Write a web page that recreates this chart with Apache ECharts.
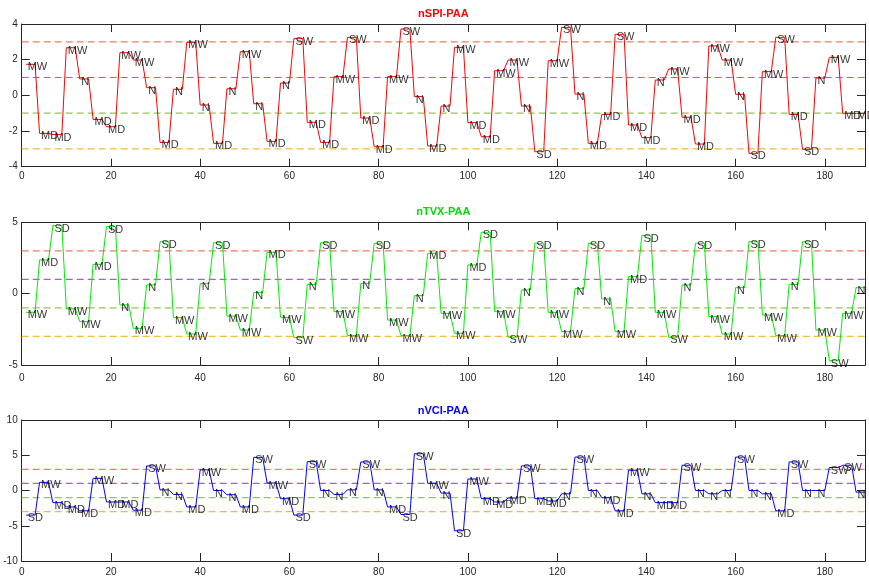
<!DOCTYPE html>
<html>
<head>
<meta charset="utf-8">
<script src="https://cdn.jsdelivr.net/npm/echarts@6/dist/echarts.min.js"></script>
<style>
html,body{margin:0;padding:0;background:#fff;}
#chart{width:869px;height:577px;}
</style>
</head>
<body>
<div id="chart"></div>
<script>
// ---- data: PAA segment values (each segment spans 3 samples) ----
const segLen = 3;
const xTicks = [0, 20, 40, 60, 80, 100, 120, 140, 160, 180];
const thresholds = [3, 1, -1, -3];

const spiValues = [1.74, -2.13, -2.2, 2.67, 0.92, -1.35, -1.76, 2.39, 1.98, 0.43,
  -2.64, 0.34, 2.97, -0.54, -2.69, 0.37, 2.45, -0.47, -2.58, 0.69,
  3.18, -1.51, -2.64, 1.05, 3.25, -1.27, -2.88, 1.05, 3.72, -0.07,
  -2.84, -0.6, 2.69, -1.53, -2.32, 1.38, 1.98, -0.6, -3.16, 1.94,
  3.81, 0.07, -2.69, -1.07, 3.42, -1.66, -2.37, 0.86, 1.48, -1.23,
  -2.73, 2.77, 1.98, 0.06, -3.25, 1.33, 3.25, -1.07, -3.03, 0.97,
  2.13, -1.01, -1.01];
const spiLabels = ['MW','MD','MD','MW','N','MD','MD','MW','MW','N',
  'MD','N','MW','N','MD','N','MW','N','MD','N',
  'SW','MD','MD','MW','SW','MD','MD','MW','SW','N',
  'MD','N','MW','MD','MD','MW','MW','N','SD','MW',
  'SW','N','MD','MD','SW','MD','MD','N','MW','MD',
  'MD','MW','MW','N','SD','MW','SW','MD','SD','N',
  'MW','MD','MD'];

const tvxValues = [-1.31, 2.36, 4.77, -1.07, -1.96, 2.06, 4.7, -0.79, -2.43, 0.61,
  3.64, -1.68, -2.83, 0.7, 3.57, -1.57, -2.55, 0.07, 2.9, -1.66,
  -3.08, 0.65, 3.57, -1.26, -2.94, 0.72, 3.53, -1.85, -2.94, -0.14,
  2.83, -1.38, -2.78, 2.01, 4.3, -1.26, -3.05, 0.26, 3.53, -1.31,
  -2.66, 0.35, 3.53, -0.37, -2.66, 1.19, 4.07, -1.31, -3.05, 0.61,
  3.53, -1.61, -2.83, 0.42, 3.64, -1.5, -2.94, 0.65, 3.64, -2.55,
  -4.7, -1.38, 0.42];
const tvxLabels = ['MW','MD','SD','MW','MW','MD','SD','N','MW','N',
  'SD','MW','MW','N','SD','MW','MW','N','MD','MW',
  'SW','N','SD','MW','MW','N','SD','MW','MW','N',
  'MD','MW','MW','MD','SD','MW','SW','N','SD','MW',
  'MW','N','SD','N','MW','MD','SD','MW','SW','N',
  'SD','MW','MW','N','SD','MW','MW','N','SD','MW',
  'SW','MW','N'];

const vciValues = [-3.49, 1.16, -1.72, -2.33, -2.88, 1.72, -1.63, -1.63, -2.79, 3.49,
  0.09, -0.56, -2.33, 2.93, 0.0, -0.6, -2.33, 4.7, 1.07, -1.16,
  -3.49, 4.09, 0.0, -0.56, 0.09, 4.05, 0.09, -2.33, -3.4, 5.21,
  1.02, -0.37, -5.72, 1.63, -1.16, -1.63, -1.07, 3.49, -1.16, -1.49,
  -0.47, 4.74, 0.0, -1.02, -2.88, 2.88, -0.47, -1.72, -1.72, 3.58,
  0.0, -0.47, 0.0, 4.74, 0.0, -0.47, -2.88, 4.05, 0.0, 0.0,
  3.26, 3.58, -0.23];
const vciLabels = ['SD','MW','MD','MD','MD','MW','MD','MD','MD','SW',
  'N','N','MD','MW','N','N','MD','SW','MW','MD',
  'SD','SW','N','N','N','SW','N','MD','SD','SW',
  'MW','N','SD','MW','MD','MD','MD','SW','MD','MD',
  'N','SW','N','MD','MD','MW','N','MD','MD','SW',
  'N','N','N','SW','N','N','MD','SW','N','N',
  'SW','SW','N'];

const panels = [
  {title: 'nSPI-PAA', color: '#ff0000', titleColor: '#ff0000', values: spiValues, labels: spiLabels,
   yMin: -4, yMax: 4, yInt: 2, top: 24, height: 142.7, titleTop: 8, xMargin: 5},
  {title: 'nTVX-PAA', color: '#00ee00', titleColor: '#00dd00', values: tvxValues, labels: tvxLabels,
   yMin: -5, yMax: 5, yInt: 5, top: 222.3, height: 142.7, titleTop: 206, xMargin: 8},
  {title: 'nVCI-PAA', color: '#0000ff', titleColor: '#0000ff', values: vciValues, labels: vciLabels,
   yMin: -10, yMax: 10, yInt: 5, top: 420, height: 143.3, titleTop: 405, xMargin: 6}
];
const thresholdColors = ['#ec805e', '#a465b8', '#96c35f', '#f2bb38'];

const FONT = 'Liberation Sans, Arial, Helvetica, sans-serif';
const AXC = '#262626';
const LEFT = 21.7, WIDTH = 843.3, XMAX = 189;

const option = {
  animation: false,
  backgroundColor: '#fff',
  title: [], grid: [], xAxis: [], yAxis: [], series: []
};

panels.forEach((p, i) => {
  option.title.push({
    text: p.title, left: LEFT + WIDTH / 2, top: p.titleTop, textAlign: 'center', padding: 0,
    textStyle: {color: p.titleColor, fontSize: 11, fontWeight: 'bold', fontFamily: FONT}
  });
  option.grid.push({left: LEFT, top: p.top, width: WIDTH, height: p.height, containLabel: false});

  const tickStyle = {show: true, inside: true, length: 8, lineStyle: {color: AXC, width: 1}};
  const lineStyle = {show: true, onZero: false, lineStyle: {color: AXC, width: 1}};
  option.xAxis.push({
    type: 'value', gridIndex: i, min: 0, max: XMAX, interval: 20, position: 'bottom',
    axisLine: lineStyle, axisTick: tickStyle, splitLine: {show: false},
    axisLabel: {color: AXC, fontSize: 10, fontFamily: FONT, margin: p.xMargin,
      formatter: v => (xTicks.indexOf(v) >= 0 ? String(v) : '')}
  });
  option.xAxis.push({
    type: 'value', gridIndex: i, min: 0, max: XMAX, interval: 20, position: 'top',
    axisLine: lineStyle, axisTick: tickStyle, splitLine: {show: false}, axisLabel: {show: false}
  });
  option.yAxis.push({
    type: 'value', gridIndex: i, min: p.yMin, max: p.yMax, interval: p.yInt, position: 'left',
    axisLine: lineStyle, axisTick: tickStyle, splitLine: {show: false},
    axisLabel: {color: AXC, fontSize: 10, fontFamily: FONT, margin: 4}
  });
  option.yAxis.push({
    type: 'value', gridIndex: i, min: p.yMin, max: p.yMax, interval: p.yInt, position: 'right',
    axisLine: lineStyle, axisTick: tickStyle, splitLine: {show: false}, axisLabel: {show: false}
  });

  // threshold dashed lines
  thresholds.forEach((t, ti) => {
    option.series.push({
      type: 'line', xAxisIndex: 2 * i, yAxisIndex: 2 * i, silent: true,
      data: [[0, t], [XMAX, t]], showSymbol: false, symbol: 'none', z: 2,
      lineStyle: {color: thresholdColors[ti], type: [7, 4], width: 1.2}
    });
  });

  // expand PAA segments into samples
  const lineData = [];
  const labelData = [];
  p.values.forEach((v, k) => {
    for (let j = 1; j <= segLen; j++) lineData.push([segLen * k + j, v]);
    labelData.push({value: [segLen * k + 1, v], name: p.labels[k]});
  });

  option.series.push({
    type: 'line', xAxisIndex: 2 * i, yAxisIndex: 2 * i, data: lineData,
    showSymbol: false, symbol: 'none', lineStyle: {color: p.color, width: 1}, z: 3
  });
  option.series.push({
    type: 'scatter', xAxisIndex: 2 * i, yAxisIndex: 2 * i, data: labelData,
    symbolSize: 1, itemStyle: {color: 'rgba(0,0,0,0)'}, z: 4, clip: false,
    label: {show: true, position: 'right', distance: 1, offset: [0, 3], formatter: '{b}',
      color: '#000', fontSize: 11, fontFamily: FONT}
  });
});

const chart = echarts.init(document.getElementById('chart'), null, {renderer: 'canvas'});
chart.setOption(option);
</script>
</body>
</html>
